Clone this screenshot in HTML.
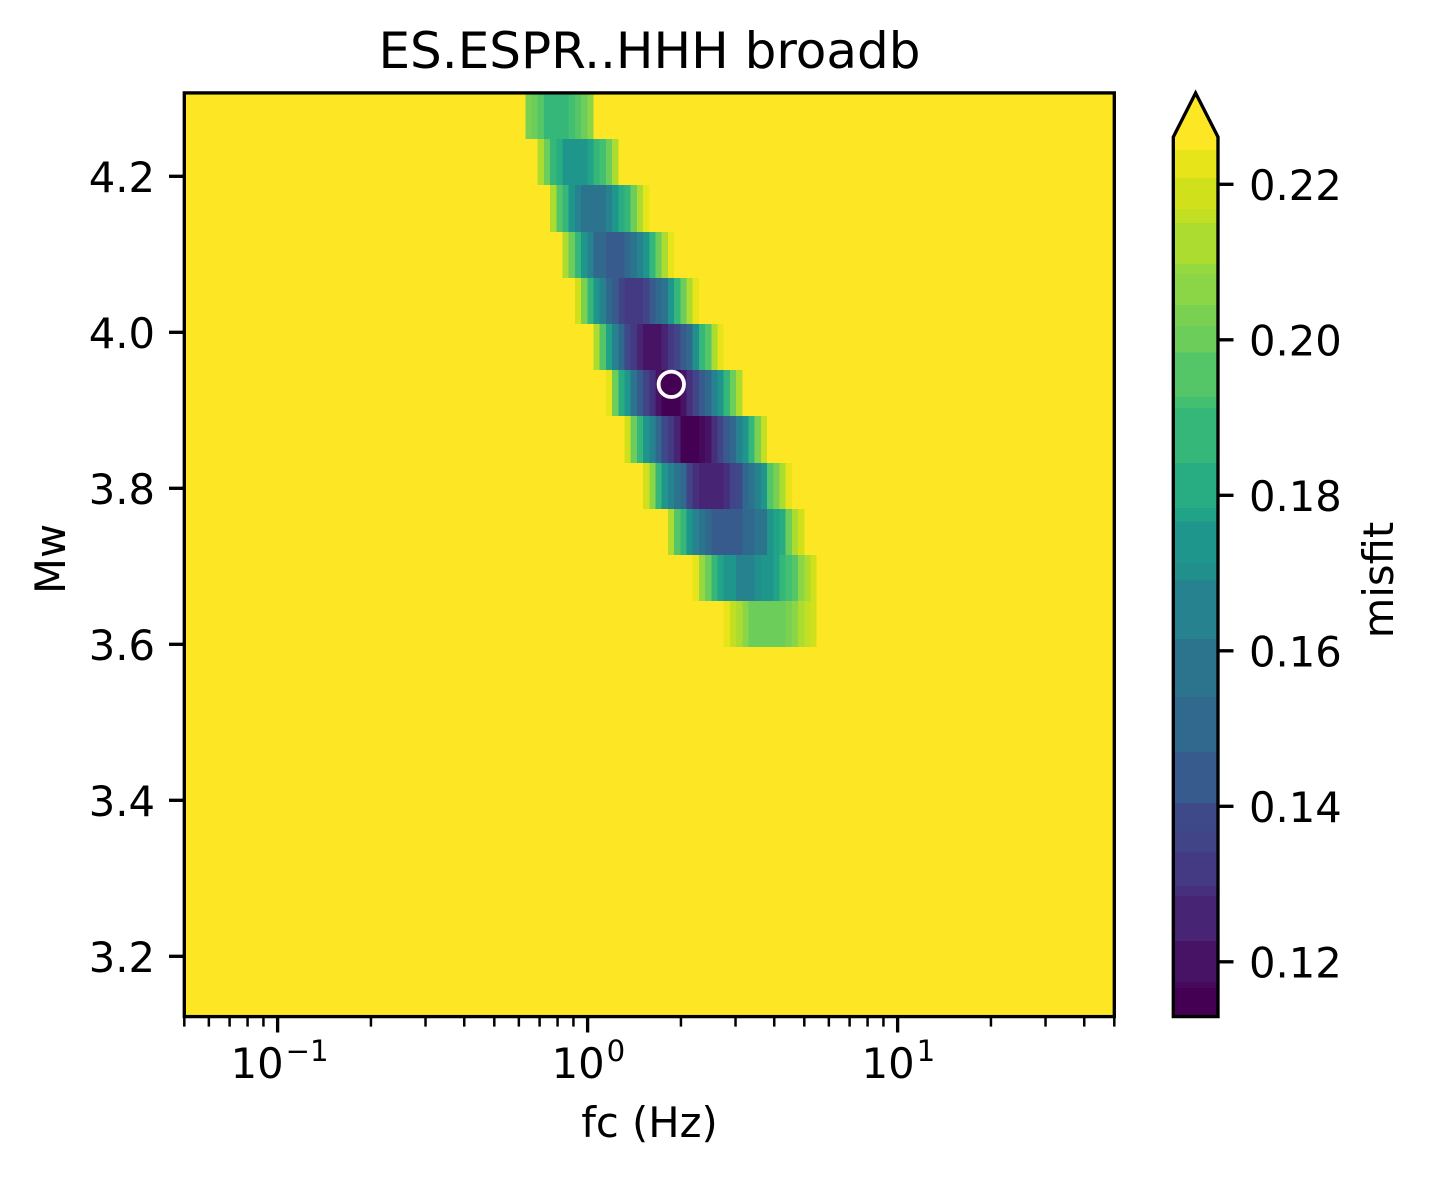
<!DOCTYPE html>
<html>
<head>
<meta charset="utf-8">
<title>ES.ESPR..HHH broadb</title>
<style>
html,body{margin:0;padding:0;background:#fff;}
svg{display:block;}
text{font-family:"DejaVu Sans","Liberation Sans",sans-serif;fill:#000;}
</style>
</head>
<body>
<svg id="chart" xmlns="http://www.w3.org/2000/svg" width="1429" height="1177" viewBox="0 0 1429 1177">
  <rect x="0" y="0" width="1429" height="1177" fill="#ffffff"/>
  <text x="649.5" y="68" font-size="50" text-anchor="middle">ES.ESPR..HHH broadb</text>
  <rect x="184.3" y="92.7" width="930" height="924" fill="#fde725"/>
  <g id="cells" shape-rendering="crispEdges"></g>
  <g id="marks"></g>
  <g id="xticks"></g>
  <g id="yticks"></g>
  <rect x="184.3" y="92.9" width="930" height="923.7" fill="none" stroke="#000" stroke-width="3.33"/>
  <text x="649.5" y="1137" font-size="41.67" text-anchor="middle">fc (Hz)</text>
  <text transform="translate(65,559) rotate(-90)" font-size="41.67" text-anchor="middle">Mw</text>
  <g id="colorbar" shape-rendering="crispEdges"></g>
  <path d="M1173.3 137 L1195.6 93 L1218 137 Z" fill="#fde725"/>
  <path d="M1173.3 1016.6 L1173.3 137 L1195.6 93 L1218 137 L1218 1016.6 Z" fill="none" stroke="#000" stroke-width="3.33" stroke-linejoin="miter"/>
  <g id="cbticks"></g>
  <text transform="translate(1393,580) rotate(-90)" font-size="41.67" text-anchor="middle">misfit</text>
</svg>
<script>
// Mw of each non-empty heatmap row, top to bottom
const mwRows = [4.2773,4.2183,4.1588,4.0995,4.0404,3.9812,3.9222,3.8627,3.8032,3.7440,3.6850,3.6260];
// first fc-grid column holding a value below the colour limit, per row
const rowStartColumn = [55,57,59,61,63,66,68,71,74,78,82,87];
// misfit values per row, reading fc upward from rowStartColumn
const misfitRow0 = [.203,.200,.196,.188,.188,.188,.188,.192,.196,.200,.206];
const misfitRow1 = [.212,.200,.188,.181,.174,.174,.174,.174,.178,.188,.192,.200,.212];
const misfitRow2 = [.212,.196,.188,.174,.165,.158,.158,.158,.158,.165,.174,.181,.188,.200,.212,.223];
const misfitRow3 = [.212,.200,.188,.174,.165,.151,.151,.144,.144,.144,.151,.158,.165,.174,.188,.200,.212,.223];
const misfitRow4 = [.219,.203,.188,.174,.165,.151,.144,.136,.132,.132,.132,.136,.144,.151,.158,.174,.188,.200,.212,.223];
const misfitRow5 = [.212,.196,.178,.165,.151,.139,.132,.126,.120,.120,.120,.126,.132,.136,.144,.151,.170,.188,.196,.212,.223];
const misfitRow6 = [.223,.200,.181,.174,.158,.144,.136,.129,.120,.115,.115,.115,.120,.129,.136,.144,.151,.165,.174,.188,.200,.212];
const misfitRow7 = [.219,.200,.188,.174,.165,.151,.139,.132,.126,.115,.115,.115,.117,.120,.129,.136,.144,.151,.165,.174,.188,.203,.216];
const misfitRow8 = [.219,.206,.188,.174,.165,.158,.151,.136,.129,.126,.126,.126,.126,.129,.136,.139,.151,.158,.165,.174,.196,.203,.212,.223];
const misfitRow9 = [.212,.196,.188,.174,.165,.158,.151,.144,.144,.144,.144,.144,.151,.151,.158,.158,.174,.178,.181,.200,.212,.219];
const misfitRow10 = [.223,.209,.200,.188,.178,.174,.174,.165,.165,.165,.170,.174,.174,.178,.188,.192,.196,.206,.212,.219];
const misfitRow11 = [.223,.216,.212,.206,.200,.200,.200,.200,.200,.200,.203,.206,.212,.216,.219];
const misfitRows = [misfitRow0,misfitRow1,misfitRow2,misfitRow3,misfitRow4,misfitRow5,misfitRow6,misfitRow7,misfitRow8,misfitRow9,misfitRow10,misfitRow11];
// best-fit source parameters
const bestFc = [1.862];
const bestMw = [3.9333];
// colour-level edges (misfit) and level colours
const levelEdges = [.11303,.11663,.1174,.12268,.12846,.12975,.13412,.13682,.14042,.14698,.15405,.16151,.1691,.17133,.17661,.17837,.18416,.19123,.19264,.19834,.20178,.20448,.20846,.20975,.21502,.21682,.22081,.22441,.22608];
const levelColors = ["#440154","#460a5d","#471365","#482475","#46307e","#443a83","#414487","#3e4989","#375b8d","#31688e","#2c738e","#26828e","#21908d","#1f968b","#20a386","#27ad81","#35b779","#43bf71","#55c667","#6ccd5a","#7ad151","#8bd646","#95d840","#addc30","#c2df23","#d0e11c","#e7e419","#fde725"];
const overColor = "#fde725";
// tick values and labels
const xMajorExponents = [-1,0,1];
const xMinorValues = [.05,.06,.07,.08,.09,.2,.3,.4,.5,.6,.7,.8,.9,2,3,4,5,6,7,8,9,20,30,40,50];
const yTickValues = [3.2,3.4,3.6,3.8,4.0,4.2];
const yTickLabels = ["3.2","3.4","3.6","3.8","4.0","4.2"];
const cbarTickValues = [.12,.14,.16,.18,.20,.22];
const cbarTickLabels = ["0.12","0.14","0.16","0.18","0.20","0.22"];

const fcMin = 0.05, fcMax = 50, fcColumns = 150, mwStep = 0.0592;
const NS = "http://www.w3.org/2000/svg";
function xAxis(fc){ return 184.3 + 310 * Math.log10(fc / fcMin); }
function yAxis(mw){ return 644.3 - (mw - 3.6) * 780; }
function cbarAxis(v){ return 961.8 - (v - 0.12) * 7775; }
function columnEdge(i){ return fcMin * Math.pow(fcMax / fcMin, i / fcColumns); }
function colorFor(v){
  for (let i = 0; i < levelColors.length; i++) { if (v < levelEdges[i + 1]) return levelColors[i]; }
  return overColor;
}
function make(parentId, tag, attrs, txt){
  const el = document.createElementNS(NS, tag);
  for (const k in attrs) el.setAttribute(k, attrs[k]);
  if (txt !== undefined) el.textContent = txt;
  document.getElementById(parentId).appendChild(el);
  return el;
}

misfitRows.forEach(function(values, r){
  const y0 = Math.round(yAxis(mwRows[r] + mwStep / 2));
  const lowerMw = r + 1 < mwRows.length ? mwRows[r + 1] + mwStep / 2 : mwRows[r] - mwStep / 2;
  const y1 = Math.round(yAxis(lowerMw));
  values.forEach(function(v, k){
    const c = rowStartColumn[r] + k;
    const x0 = xAxis(columnEdge(c)), x1 = xAxis(columnEdge(c + 1));
    const el = make("cells", "rect", {x: x0, y: y0, width: x1 - x0, height: y1 - y0, fill: colorFor(v)});
    
    
  });
});

bestFc.forEach(function(fc, i){
  const el = make("marks", "circle", {cx: xAxis(fc), cy: yAxis(bestMw[i]), r: 12.7, fill: "none", stroke: "#ffffff", "stroke-width": 3.8});
  
  
});

xMinorValues.forEach(function(fc){
  const x = xAxis(fc);
  const el = make("xticks", "line", {x1: x, x2: x, y1: 1016.6, y2: 1026.6, stroke: "#000", "stroke-width": 2.5});
  
  
});
xMajorExponents.forEach(function(e){
  const x = xAxis(Math.pow(10, e));
  const tick = make("xticks", "line", {x1: x, x2: x, y1: 1016.6, y2: 1032.5, stroke: "#000", "stroke-width": 3.33});
  
  
  const sup = String(e).replace("-", "\u2212");
  const half = e < 0 ? 47 : 36;
  const label = make("xticks", "text", {x: x - half, y: 1078, "font-size": 41.67}, "10");
  
  
  const exp = document.createElementNS(NS, "tspan");
  exp.setAttribute("dy", "-17");
  exp.setAttribute("dx", "2");
  exp.setAttribute("font-size", "29.17");
  exp.textContent = sup;
  
  
  label.appendChild(exp);
});

yTickValues.forEach(function(m, i){
  const y = yAxis(m);
  const tick = make("yticks", "line", {x1: 184.3, x2: 169, y1: y, y2: y, stroke: "#000", "stroke-width": 3.33});
  
  
  const label = make("yticks", "text", {x: 155, y: y + 15.5, "font-size": 41.67, "text-anchor": "end"}, yTickLabels[i]);
  
  
});

levelColors.forEach(function(col, i){
  const yTop = cbarAxis(levelEdges[i + 1]), yBot = cbarAxis(levelEdges[i]);
  const el = make("colorbar", "rect", {x: 1173.3, y: yTop, width: 44.7, height: yBot - yTop, fill: col});
  
  
});

cbarTickValues.forEach(function(v, i){
  const y = cbarAxis(v);
  const tick = make("cbticks", "line", {x1: 1218, x2: 1233.5, y1: y, y2: y, stroke: "#000", "stroke-width": 3.33});
  
  
  const label = make("cbticks", "text", {x: 1249, y: y + 15.5, "font-size": 41.67}, cbarTickLabels[i]);
  
  
});
</script>
</body>
</html>
